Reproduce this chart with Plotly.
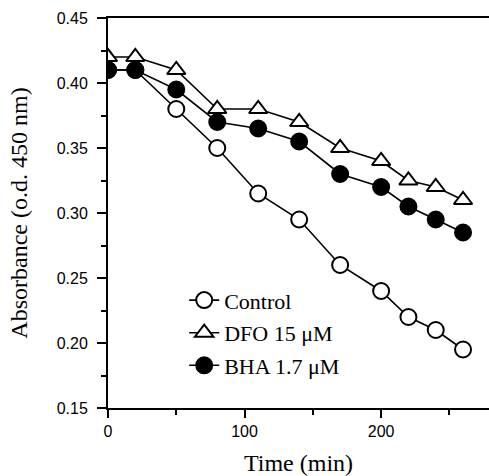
import plotly.graph_objects as go

time_min = [0, 20, 50, 80, 110, 140, 170, 200, 220, 240, 260]
control = [0.41, 0.41, 0.38, 0.35, 0.315, 0.295, 0.26, 0.24, 0.22, 0.21, 0.195]
dfo = [0.42, 0.42, 0.41, 0.38, 0.38, 0.37, 0.35, 0.34, 0.325, 0.32, 0.31]
bha = [0.41, 0.41, 0.395, 0.37, 0.365, 0.355, 0.33, 0.32, 0.305, 0.295, 0.285]
x_ticks = [0, 100, 200]
x_minor = [50, 150, 250]
y_ticks = [0.15, 0.20, 0.25, 0.30, 0.35, 0.40, 0.45]
y_minor = [0.175, 0.225, 0.275, 0.325, 0.375, 0.425]

fig = go.Figure()
line = dict(color="black", width=1.6)
fig.add_trace(go.Scatter(x=time_min, y=control, name="Control", mode="lines+markers",
                         line=line, legendgroup="a",
                         marker=dict(symbol="circle", size=16, color="white",
                                     line=dict(color="black", width=2))))
fig.add_trace(go.Scatter(x=time_min, y=dfo, name="DFO 15 μM", mode="lines+markers",
                         line=line, legendgroup="b",
                         marker=dict(symbol="triangle-up", size=16, color="white",
                                     line=dict(color="black", width=2))))
fig.add_trace(go.Scatter(x=time_min, y=bha, name="BHA 1.7 μM", mode="lines+markers",
                         line=line, legendgroup="c",
                         marker=dict(symbol="circle", size=16, color="black",
                                     line=dict(color="black", width=2))))

serif = "Liberation Serif"
sans = "Liberation Sans"
fig.update_layout(
    width=489, height=476,
    margin=dict(l=108, r=0, t=18, b=68, autoexpand=False),
    plot_bgcolor="white", paper_bgcolor="white",
    showlegend=True,
    legend=dict(x=0.2, y=0.33, xanchor="left", yanchor="top",
                font=dict(family=serif, size=22, color="black"),
                bgcolor="rgba(0,0,0,0)", tracegroupgap=1, itemwidth=30),
    xaxis=dict(range=[0, 279], tickvals=x_ticks, ticks="outside", ticklen=8,
               tickwidth=1.6, tickcolor="black", showline=True, linecolor="black",
               linewidth=2, mirror=True, showgrid=False, zeroline=False,
               automargin=False,
               minor=dict(tickvals=x_minor, ticks="outside", ticklen=5,
                          tickcolor="black", tickwidth=1.6),
               tickfont=dict(family=sans, size=16, color="black"),
               title=dict(text="Time (min)", standoff=16,
                          font=dict(family=serif, size=24, color="black"))),
    yaxis=dict(range=[0.15, 0.45], tickvals=y_ticks, tickformat=".2f", ticks="outside",
               ticklen=9, tickwidth=1.6, tickcolor="black", showline=True,
               linecolor="black", linewidth=2, mirror=False, showgrid=False,
               zeroline=False, automargin=False, ticklabelstandoff=6,
               minor=dict(tickvals=y_minor, ticks="outside", ticklen=5,
                          tickcolor="black", tickwidth=1.6),
               tickfont=dict(family=sans, size=16, color="black"),
               title=dict(text="Absorbance (o.d. 450 nm)", standoff=22,
                          font=dict(family=serif, size=24, color="black"))),
)

fig.write_html("out.html", config={"displayModeBar": False},
               post_script="document.body.style.margin='0';document.body.style.overflow='hidden';")
